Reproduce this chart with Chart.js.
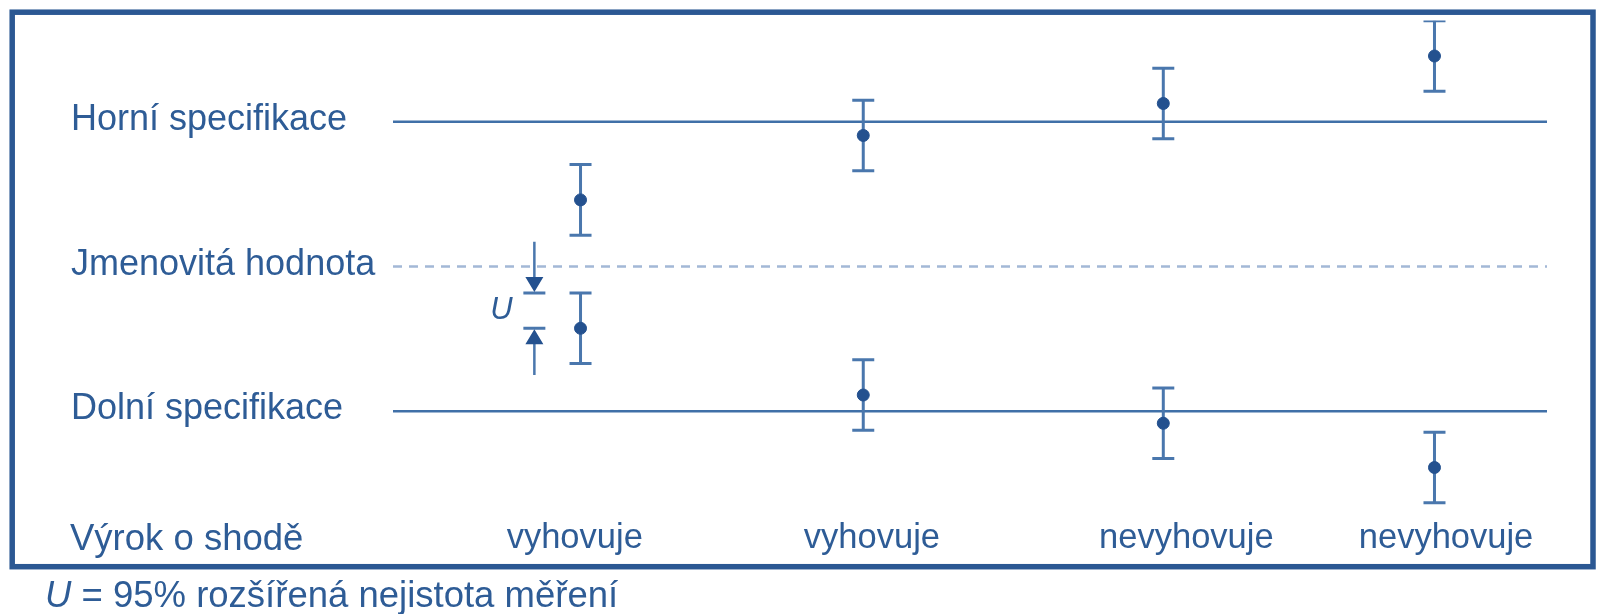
<!DOCTYPE html>
<html><head><meta charset="utf-8">
<script src="https://cdn.jsdelivr.net/npm/chart.js@4"></script>
<style>html,body{margin:0;padding:0;background:#fff;}canvas{display:block;}</style>
</head><body>
<canvas id="c" width="1599" height="614"></canvas>
<script>
// ---- data ----
const categories = ['vyhovuje', 'vyhovuje', 'nevyhovuje', 'nevyhovuje'];
const pointX = [0.65, 1.63, 2.67, 3.61];
const labelX = [0.63, 1.66, 2.75, 3.65];
const upperValues = [0.46, 0.905, 1.126, 1.454];
const lowerValues = [-0.427, -0.888, -1.083, -1.389];
const U = 0.244;
const specValues = [1, 0, -1];
const specLabels = ['Horní specifikace', 'Jmenovitá hodnota', 'Dolní specifikace'];
const rowLabel = 'Výrok o shodě';
const captionSymbol = 'U';
const captionText = ' = 95% rozšířená nejistota měření';
const annotX = 0.49;
const annotTails = [0.17, -0.75];

// ---- style ----
const TEXT = '#2e5c96';
const LINE = '#4070a8';
const DASH = '#a3b8d6';
const BAR = '#4a77ad';
const DOT = '#24518f';
const FONT = '"Liberation Sans", Arial, sans-serif';
const FS_Y = 36;
const FS_X = 34.5;
const FS_T = 36.5;
const labelShift = {'1': -3.3, '0': -1.8, '-1': -6};

const datasets = [];
// dots
const dots = [];
pointX.forEach((x, i) => { dots.push({x, y: upperValues[i]}); dots.push({x, y: lowerValues[i]}); });
datasets.push({data: dots, pointRadius: 6, pointHoverRadius: 6, backgroundColor: DOT, borderColor: DOT, showLine: false, order: 0});
// error bars
dots.forEach(p => {
  datasets.push({data: [{x: p.x, y: p.y - U}, {x: p.x, y: p.y + U}], showLine: true,
    borderColor: BAR, borderWidth: 3, pointStyle: 'line', pointRadius: 11, pointHoverRadius: 11,
    pointBorderWidth: 3, pointBorderColor: BAR, order: 1});
});
// spec lines
specValues.forEach(v => {
  datasets.push({data: [{x: 0, y: v}, {x: 4, y: v}], showLine: true, pointRadius: 0,
    borderColor: v === 0 ? DASH : LINE, borderWidth: 2.5, borderDash: v === 0 ? [9, 7] : [], order: 2});
});

const decor = {
  id: 'decor',
  afterDatasetsDraw(chart) {
    const c = chart.ctx, xs = chart.scales.x, ys = chart.scales.y;
    const ax = xs.getPixelForValue(annotX);
    const capTop = ys.getPixelForValue(lowerValues[0] + U);
    const capBot = ys.getPixelForValue(lowerValues[0]);
    const t0 = ys.getPixelForValue(annotTails[0]);
    const t1 = ys.getPixelForValue(annotTails[1]);
    c.save();
    c.strokeStyle = BAR; c.fillStyle = DOT; c.lineWidth = 2.5;
    c.beginPath();
    c.moveTo(ax, t0); c.lineTo(ax, capTop - 10);
    c.moveTo(ax, t1); c.lineTo(ax, capBot + 10);
    c.stroke();
    c.lineWidth = 3;
    c.beginPath();
    c.moveTo(ax - 11, capTop); c.lineTo(ax + 11, capTop);
    c.moveTo(ax - 11, capBot); c.lineTo(ax + 11, capBot);
    c.stroke();
    c.beginPath();
    c.moveTo(ax - 9, capTop - 16); c.lineTo(ax + 9, capTop - 16); c.lineTo(ax, capTop - 1); c.closePath();
    c.moveTo(ax - 9, capBot + 16); c.lineTo(ax + 9, capBot + 16); c.lineTo(ax, capBot + 1); c.closePath();
    c.fill();
    c.fillStyle = TEXT;
    c.font = 'italic 31px ' + FONT;
    c.textAlign = 'center'; c.textBaseline = 'middle';
    c.fillText('U', ax - 33, (capTop + capBot) / 2);
    c.restore();
  },
  afterDraw(chart) {
    const c = chart.ctx;
    c.save();
    c.strokeStyle = '#2b5893'; c.lineWidth = 5.5;
    c.strokeRect(12.2, 12.2, 1593 - 12.2, 566.7 - 12.2);
    c.fillStyle = TEXT;
    c.textBaseline = 'alphabetic'; c.textAlign = 'left';
    c.font = FS_T + 'px ' + FONT;
    c.fillText(rowLabel, 70, 550);
    c.font = 'italic ' + FS_T + 'px ' + FONT;
    c.fillText(captionSymbol, 45, 607);
    const w = c.measureText(captionSymbol).width;
    c.font = FS_T + 'px ' + FONT;
    c.fillText(captionText, 45 + w, 607);
    c.restore();
  }
};

new Chart(document.getElementById('c'), {
  type: 'scatter',
  data: {datasets},
  plugins: [decor],
  options: {
    responsive: false,
    devicePixelRatio: 1,
    animation: false,
    events: [],
    layout: {padding: {left: 71, right: 52, top: 20.4, bottom: 53.7}},
    plugins: {legend: {display: false}, tooltip: {enabled: false}},
    scales: {
      x: {
        type: 'linear', min: 0, max: 4, position: 'bottom',
        grid: {display: false, drawTicks: false}, border: {display: false},
        afterBuildTicks: s => { s.ticks = labelX.map(v => ({value: v})); },
        afterFit: s => { s.height = 55; s.paddingLeft = 0; s.paddingRight = 0; },
        ticks: {autoSkip: false, maxRotation: 0, padding: 12.4, color: TEXT,
          font: {family: FONT, size: FS_X},
          callback: (v, i) => categories[i]}
      },
      y: {
        type: 'linear', min: -1.65, max: 1.7,
        grid: {display: false, drawTicks: false}, border: {display: false},
        afterBuildTicks: s => { s.ticks = specValues.map(v => ({value: v})); },
        afterFit: s => { s.width = 322; s.paddingTop = 0; s.paddingBottom = 0; },
        ticks: {crossAlign: 'far', color: TEXT, font: {family: FONT, size: FS_Y},
          labelOffset: ctx => labelShift[String(ctx.tick ? ctx.tick.value : 0)] || 0,
          callback: v => specLabels[specValues.indexOf(v)]}
      }
    }
  }
});
</script>
</body></html>
